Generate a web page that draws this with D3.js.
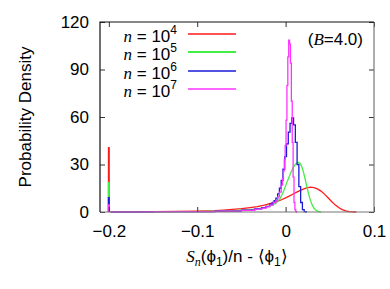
<!DOCTYPE html>
<html>
<head>
<meta charset="utf-8">
<script src="https://cdn.jsdelivr.net/npm/d3@7"></script>
<style>
  body { margin: 0; background: #fff; }
  svg { display: block; }
  text { font-family: "Liberation Sans", Arial, sans-serif; fill: #000; }
</style>
</head>
<body>
<svg width="390" height="289"></svg>
<script>
// tick labels
const xTicks = [-0.2, -0.1, 0, 0.1];
const yTicks = [0, 30, 60, 90, 120];

// legend: n = 10^k
const exponents = [4, 5, 6, 7];
const colors = ["#ff1a1a", "#44ee44", "#1a1ad8", "#ff33ff"];

// narrow bin at -0.2 (height of spike for each n)
const spikeHeights = [41, 19, 9.5, 5];

// n = 10^4 histogram (bin centres / density)
const x4 = [-0.198, -0.15, -0.12, -0.10, -0.08, -0.07, -0.06, -0.05, -0.04, -0.032, -0.028, -0.024,
  -0.020, -0.016, -0.012, -0.008, -0.004, 0.000, 0.004, 0.008, 0.012, 0.016, 0.020, 0.024, 0.028,
  0.032, 0.036, 0.040, 0.044, 0.048, 0.052, 0.056, 0.060, 0.064, 0.068, 0.072, 0.076, 0.080];
const y4 = [0.1, 0.2, 0.4, 0.6, 0.9, 1.2, 1.6, 2.1, 2.8, 3.4, 3.9, 4.4,
  5.0, 5.6, 6.3, 7.0, 7.9, 8.9, 10.0, 11.2, 12.4, 13.5, 14.5, 15.3, 15.7,
  15.4, 14.6, 13.2, 11.3, 9.0, 6.6, 4.5, 2.8, 1.5, 0.7, 0.3, 0.1, 0];

// n = 10^5
const x5 = [-0.198, -0.1, -0.06, -0.04, -0.03, -0.024, -0.020, -0.016, -0.012, -0.010, -0.008, -0.006,
  -0.004, -0.002, 0.000, 0.002, 0.004, 0.006, 0.008, 0.010, 0.012, 0.014, 0.016, 0.018, 0.020,
  0.022, 0.024, 0.026, 0.028, 0.030, 0.032, 0.034, 0.036, 0.038, 0.040];
const y5 = [0.1, 0.3, 0.8, 1.5, 2.2, 2.8, 3.4, 4.2, 5.2, 6.0, 7.2, 8.8,
  11.0, 13.6, 16.5, 19.5, 22.3, 25.0, 27.4, 29.3, 30.7, 31.4, 31.0, 29.0, 25.6,
  21.0, 16.0, 11.4, 7.5, 4.5, 2.5, 1.2, 0.5, 0.2, 0];

// n = 10^6
const x6 = [-0.198, -0.1, -0.06, -0.04, -0.03, -0.024, -0.020, -0.016, -0.014, -0.012, -0.010, -0.008,
  -0.006, -0.004, -0.002, 0.000, 0.002, 0.004, 0.006, 0.008, 0.010, 0.012, 0.014, 0.016, 0.018,
  0.020, 0.022, 0.024];
const y6 = [0.1, 0.2, 0.6, 1.2, 2.0, 2.8, 3.6, 5.0, 6.0, 7.2, 8.8, 11.5,
  15.0, 20.0, 27.0, 35.0, 43.0, 50.5, 56.0, 59.4, 55.0, 44.0, 30.0, 16.0, 6.0,
  1.5, 0.3, 0];

// n = 10^7
const x7 = [-0.198, -0.1, -0.06, -0.04, -0.03, -0.024, -0.020, -0.016, -0.012, -0.010, -0.008, -0.006,
  -0.004, -0.003, -0.002, -0.001, 0.000, 0.001, 0.002, 0.003, 0.004, 0.005, 0.006, 0.007, 0.008,
  0.009, 0.010, 0.011, 0.012, 0.013];
const y7 = [0.1, 0.2, 0.5, 1.0, 1.8, 2.5, 3.2, 4.4, 6.0, 7.2, 9.5, 12.5,
  17.0, 21.0, 26.0, 33.0, 42.0, 58.0, 80.0, 98.0, 108.6, 106.0, 94.0, 70.0, 44.0,
  22.0, 6.0, 1.5, 0.3, 0];

const histX = [x4, x5, x6, x7];
const histY = [y4, y5, y6, y7];

const pLeft = 100, pRight = 374, pTop = 22, pBottom = 212;

const svg = d3.select("svg");

const x = d3.scaleLinear().domain([-0.21, 0.1]).range([pLeft, pRight]);
const y = d3.scaleLinear().domain([0, 120]).range([pBottom, pTop]);

// wide histograms drawn smooth, narrow ones as steps
const curves = [d3.curveLinear, d3.curveLinear, d3.curveStep, d3.curveStep];

const gCurves = svg.append("g");
histX.forEach((xs, k) => {
  const pts = xs.map((v, i) => [v, histY[k][i]]);
  const line = d3.line()
    .x(d => x(d[0]))
    .y(d => y(d[1]))
    .curve(curves[k]);
  gCurves.append("path")
    .attr("d", line(pts))
    .attr("fill", "none")
    .attr("stroke", colors[k])
    .attr("stroke-width", 1.3);
  gCurves.append("line")
    .attr("x1", x(-0.2)).attr("x2", x(-0.2))
    .attr("y1", y(0)).attr("y2", y(spikeHeights[k]))
    .attr("stroke", colors[k])
    .attr("stroke-width", 2);
});

// axes (inward ticks)
const fmtX = d => d === 0 ? "0" : d3.format(".1f")(d);
const gx = svg.append("g")
  .attr("transform", `translate(0,${pBottom})`)
  .call(d3.axisBottom(x).tickValues(xTicks).tickSize(-5).tickPadding(13).tickFormat(fmtX));
const gxTop = svg.append("g")
  .attr("transform", `translate(0,${pTop})`)
  .call(d3.axisTop(x).tickValues(xTicks).tickSize(-5).tickFormat(""));
const gy = svg.append("g")
  .attr("transform", `translate(${pLeft},0)`)
  .call(d3.axisLeft(y).tickValues(yTicks).tickSize(-5).tickPadding(11));
const gyRight = svg.append("g")
  .attr("transform", `translate(${pRight},0)`)
  .call(d3.axisRight(y).tickValues(yTicks).tickSize(-5).tickFormat(""));

[gx, gxTop, gy, gyRight].forEach(g => {
  g.select(".domain").remove();
  g.selectAll("line").attr("stroke", "#333");
  g.selectAll("text").style("font-size", "17px").attr("fill", "#000");
});

// frame
svg.append("path")
  .attr("d", `M${pRight},${pTop}V${pBottom}H${pLeft}`)
  .attr("fill", "none").attr("stroke", "#777").attr("stroke-width", 1.2);
svg.append("path")
  .attr("d", `M${pLeft},${pBottom}V${pTop}H${pRight}`)
  .attr("fill", "none").attr("stroke", "#111").attr("stroke-width", 1.2);

// axis titles
svg.append("text")
  .attr("transform", `translate(31,117) rotate(-90)`)
  .attr("text-anchor", "middle")
  .style("font-size", "17px")
  .text("Probability Density");

const xt = svg.append("text")
  .attr("x", (pLeft + pRight) / 2).attr("y", 262)
  .attr("text-anchor", "middle")
  .style("font-size", "17px");
xt.append("tspan").style("font-family", "'Liberation Serif', serif").style("font-style", "italic").text("S");
xt.append("tspan").attr("dy", 4).style("font-family", "'Liberation Serif', serif").style("font-style", "italic").style("font-size", "12px").text("n");
xt.append("tspan").attr("dy", -4).text("(\u03d5");
xt.append("tspan").attr("dy", 4).style("font-size", "12px").text("1");
xt.append("tspan").attr("dy", -4).text(")/n - \u27e8\u03d5");
xt.append("tspan").attr("dy", 4).style("font-size", "12px").text("1");
xt.append("tspan").attr("dy", -4).text("\u27e9");

// legend
const legendY = [34, 52, 71, 89];
exponents.forEach((e, k) => {
  const t = svg.append("text")
    .attr("x", 177).attr("y", legendY[k] + 8)
    .attr("text-anchor", "end")
    .style("font-size", "17px");
  t.append("tspan").style("font-family", "'Liberation Serif', serif").style("font-style", "italic").text("n");
  t.append("tspan").text(" = 10");
  t.append("tspan").attr("dy", -8).style("font-size", "12px").text(e);
  svg.append("line")
    .attr("x1", 188).attr("x2", 236)
    .attr("y1", legendY[k]).attr("y2", legendY[k])
    .attr("stroke", colors[k])
    .attr("stroke-width", k === 1 ? 2 : 1.3);
});

// parameter label
const bt = svg.append("text")
  .attr("x", 363).attr("y", 45)
  .attr("text-anchor", "end")
  .style("font-size", "17px");
bt.append("tspan").text("(");
bt.append("tspan").style("font-family", "'Liberation Serif', serif").style("font-style", "italic").text("B");
bt.append("tspan").text("=4.0)");
</script>
</body>
</html>
